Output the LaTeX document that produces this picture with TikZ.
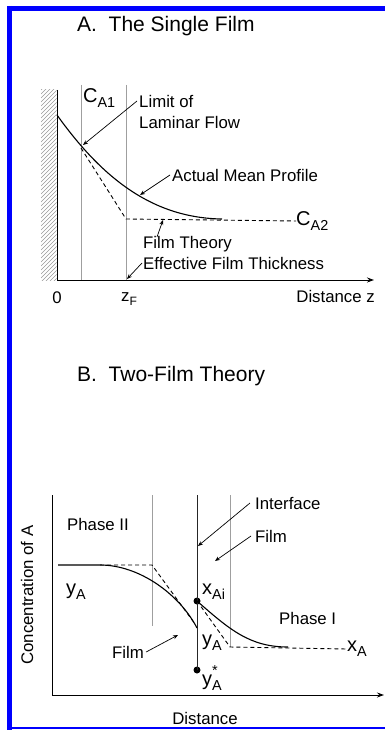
\documentclass[tikz,border=0pt]{standalone}
\usepackage{fontspec}
\setmainfont{Liberation Sans}
\usetikzlibrary{arrows.meta}
\newcommand\lowsub[1]{\raisebox{-0.45ex}{\scalebox{0.72}{#1}}}
\newcommand\starsup{\rlap{\raisebox{1.0ex}{\scalebox{0.72}{*}}}}
\tikzset{
  lbl/.style={inner sep=0pt, anchor=west, font=\fontsize{16.8}{18}\selectfont},
  sym/.style={inner sep=0pt, anchor=west, font=\fontsize{20}{22}\selectfont},
  ttl/.style={inner sep=0pt, anchor=west, font=\fontsize{21}{23}\selectfont},
  guide/.style={gray!75, line width=0.8pt},
  axis/.style={line width=1pt, -{Stealth[length=7pt,width=5pt]}},
  prof/.style={line width=1.1pt},
  film/.style={line width=0.9pt, dash pattern=on 4pt off 3pt},
  arr/.style={line width=0.7pt, -{Stealth[length=5pt,width=4pt]}},
  dot/.style={circle, fill, inner sep=0pt, minimum size=7pt}
}
\begin{document}
\begin{tikzpicture}[x=1pt, y=-1pt]
  \useasboundingbox (0,0) rectangle (385,730);
  % frame
  \draw[blue, line width=5pt] (7,8.5) -- (385,8.5);
  \draw[blue, line width=5pt] (9.5,6) -- (9.5,730);
  \draw[blue, line width=1.5pt] (7,728) -- (385,728);

  % ---- A. The Single Film
  \node[ttl] (titleA) at (77,26) {A.\ \ The Single Film};
  \begin{scope}
    \clip (41,90) rectangle (56.5,280);
    \foreach \i in {0,4,...,210}
      \draw[gray!80, line width=0.5pt] (41,90+\i) -- ++(16,-16);
  \end{scope}
  \draw[line width=1pt] (57,90) -- (57,280);
  \draw[guide] (81,85) -- (81,280);
  \draw[guide] (126,85) -- (126,280);
  \coordinate (origA) at (57,280);
  \coordinate (endA) at (374,280);
  \draw[axis] (origA) -- (endA);

  \draw[prof] (57,115) .. controls (100,175) and (150,218) .. (222,219);
  \node[sym] (cA2) at (296,221) {C\lowsub{A2}};
  \draw[film] (81,148) -- (126,219) -- (cA2.west);

  \node[sym] (cA1) at (83,98) {C\lowsub{A1}};
  \node[lbl] (limit) at (139,101) {Limit of};
  \node[lbl] (laminar) at (139,122) {Laminar Flow};
  \coordinate (limitTip) at (83,145);
  \draw[arr] ([xshift=-2pt]limit.west) -- (limitTip);

  \node[lbl] (actual) at (172,175) {Actual Mean Profile};
  \coordinate (actualTip) at (140,195);
  \draw[arr] ([xshift=-2pt]actual.west) -- (actualTip);

  \node[lbl] (filmth) at (143,244) {Film Theory};
  \node[lbl] (effth) at (143,263) {Effective Film Thickness};
  \coordinate (filmthTip) at (163,220);
  \coordinate (zFTip) at (127,279);
  \draw[arr] ([xshift=14pt,yshift=-1pt]filmth.north west) -- (filmthTip);
  \draw[arr] ([xshift=-1pt]effth.west) -- (zFTip);

  \node[lbl, anchor=center] (zero) at (57,298) {0};
  \node[lbl, anchor=center] (zF) at (129,299) {z\lowsub{F}};
  \node[lbl, anchor=east] (distz) at (375,296) {Distance z};

  % ---- B. Two-Film Theory
  \node[ttl] (titleB) at (77,376) {B.\ \ Two-Film Theory};
  \coordinate (origB) at (52,695);
  \coordinate (topB) at (52,495);
  \coordinate (endB) at (384,695);
  \draw[line width=1pt] (topB) -- (origB);
  \draw[axis] (origB) -- (endB);
  \node[lbl, anchor=center, rotate=90] (conc) at (27,595) {Concentration of A};
  \node[lbl, anchor=center] (dist) at (205,718) {Distance};

  \draw[guide] (152,495) -- (152,626);
  \draw[guide] (230,495) -- (230,647);
  \node[dot] (xAiDot) at (197,601) {};
  \node[dot] (ystarDot) at (197,670) {};
  \draw[gray!30!black, line width=0.9pt] (197,495) -- (ystarDot.center);

  % phase II profile
  \draw[prof] (58,565) -- (100,565) .. controls (140,565) and (180,595) .. (197,628);
  \draw[film] (100,565) -- (152,565) -- (195,624);
  % phase I profile
  \node[sym] (xA) at (347,649) {x\lowsub{A}};
  \draw[prof] (xAiDot.center) .. controls (230,630) and (250,647) .. (288,647);
  \draw[film] (xAiDot.center) -- (230,647) -- (xA.west);

  \node[sym] (yA) at (66,592) {y\lowsub{A}};
  \node[sym] (xAi) at (202,592) {x\lowsub{Ai}};
  \node[sym] (yAi) at (202,643) {y\lowsub{A}};
  \node[sym] (ystar) at (202,678) {y\starsup\lowsub{A}};

  \node[lbl] (phaseII) at (67,524) {Phase II};
  \node[lbl] (phaseI) at (279,618) {Phase I};
  \node[lbl] (iface) at (255,503) {Interface};
  \node[lbl] (filmR) at (255,536) {Film};
  \node[lbl] (filmL) at (112,652) {Film};
  \coordinate (ifaceTip) at (198,546);
  \coordinate (filmRTip) at (215,561);
  \coordinate (filmLTip) at (178,635);
  \draw[arr] ([xshift=-5pt]iface.west) -- (ifaceTip);
  \draw[arr] ([xshift=-4pt]filmR.west) -- (filmRTip);
  \draw[arr] ([xshift=2pt]filmL.east) -- (filmLTip);
\end{tikzpicture}
\end{document}
